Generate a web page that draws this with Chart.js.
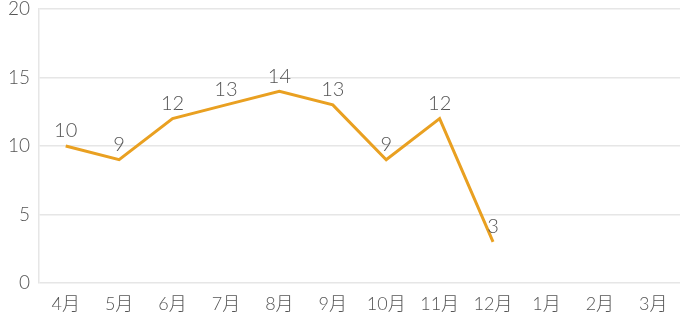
<!DOCTYPE html>
<html>
<head>
<meta charset="utf-8">
<script src="https://cdn.jsdelivr.net/npm/chart.js@4"></script>
<style>
  html, body { margin: 0; padding: 0; background: #fff; }
  #wrap { width: 685px; height: 323px; }
</style>
</head>
<body>
<div id="wrap"><canvas id="chart1"></canvas></div>
<script>
const months = ["4月", "5月", "6月", "7月", "8月", "9月", "10月", "11月", "12月", "1月", "2月", "3月"];
const counts = [10, 9, 12, 13, 14, 13, 9, 12, 3, null, null, null];
const yTicks = [0, 5, 10, 15, 20];

const fontFamily = "Lato, 'Noto Sans CJK JP', sans-serif";

// 点の上に値を描く
const valueLabels = {
    id: "valueLabels",
    afterDatasetsDraw(chart) {
        const ctx = chart.ctx;
        const meta = chart.getDatasetMeta(0);
        ctx.save();
        ctx.font = "300 20px " + fontFamily;
        ctx.fillStyle = "#555";
        ctx.textAlign = "center";
        ctx.textBaseline = "middle";
        meta.data.forEach((pt, i) => {
            const v = counts[i];
            if (v === null) return;
            ctx.fillText(String(v), pt.x, pt.y - 15);
        });
        ctx.restore();
    }
};

let ctx1 = document.getElementById("chart1").getContext("2d");
new Chart(ctx1, {
    type: "line",
    data: {
        labels: months,
        datasets: [{
            data: counts,
            borderColor: "#E9A021",
            borderWidth: 3,
            pointRadius: 0,
            tension: 0,
            spanGaps: false
        }]
    },
    options: {
        responsive: true,
        maintainAspectRatio: false,
        animation: false,
        layout: { padding: { top: 9, right: 5, left: 0, bottom: 0 } },
        plugins: { legend: { display: false }, tooltip: { enabled: false } },
        scales: {
            x: {
                offset: true,
                grid: { display: false },
                border: { display: false },
                ticks: { color: "#555", font: { family: fontFamily, size: 18, weight: 300 }, padding: 2, maxRotation: 0 },
                afterFit(scale) { scale.height = 40; }
            },
            y: {
                min: 0,
                max: 20,
                afterBuildTicks(scale) { scale.ticks = yTicks.map(v => ({ value: v })); },
                grid: { color: "#e6e6e6", lineWidth: 1.5, drawTicks: false },
                border: { display: true, color: "#e6e6e6", width: 1.5 },
                ticks: { color: "#555", font: { family: fontFamily, size: 19, weight: 300 }, padding: 9 },
                afterFit(scale) { scale.width = 39; scale.paddingTop = 0; scale.paddingBottom = 0; }
            }
        }
    },
    plugins: [valueLabels]
});
</script>
</body>
</html>
